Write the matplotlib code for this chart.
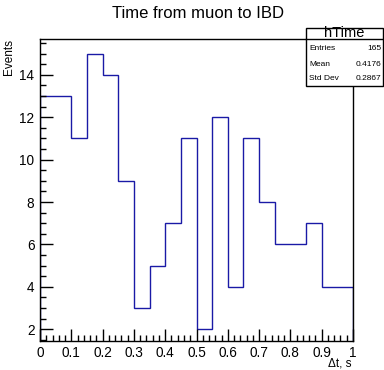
#!/usr/bin/env python3
import numpy as np
import matplotlib
matplotlib.use("Agg")
import matplotlib.pyplot as plt
from matplotlib.ticker import MultipleLocator

plt.rcParams['font.family'] = ['Liberation Sans', 'DejaVu Sans']

# histogram content, 20 bins of 0.05 s
bin_edges = [0.0, 0.05, 0.1, 0.15, 0.2, 0.25, 0.3, 0.35, 0.4, 0.45, 0.5,
             0.55, 0.6, 0.65, 0.7, 0.75, 0.8, 0.85, 0.9, 0.95, 1.0]
counts = [13, 13, 11, 15, 14, 9, 3, 5, 7, 11,
          2, 12, 4, 11, 8, 6, 6, 7, 4, 4]
stats_names = ["Entries", "Mean", "Std Dev"]
stats_values = ["165", "0.4176", "0.2867"]

W, H = 384, 370
fig = plt.figure(figsize=(W / 100, H / 100), dpi=100)
ax_l, ax_r, ax_t, ax_b = 40, 353, 38.7, 340.7
ax = fig.add_axes([ax_l / W, 1 - ax_b / H, (ax_r - ax_l) / W, (ax_b - ax_t) / H])

ax.stairs(counts, bin_edges, color="#1a1aa6", linewidth=1.0)
ax.set_xlim(0, 1)
ax.set_ylim(1.46, 15.7)

ax.xaxis.set_major_locator(MultipleLocator(0.1))
ax.xaxis.set_minor_locator(MultipleLocator(0.02))
ax.yaxis.set_major_locator(MultipleLocator(2))
ax.yaxis.set_minor_locator(MultipleLocator(0.5))
ax.set_xticks(np.arange(0, 1.01, 0.1))
ax.set_xticklabels(["0", "0.1", "0.2", "0.3", "0.4", "0.5", "0.6", "0.7",
                    "0.8", "0.9", "1"])
ax.tick_params(which="both", direction="in", top=False, right=False,
               labelsize=9.8, width=1.0)
ax.tick_params(which="major", length=9, pad=4)
ax.tick_params(which="minor", length=4.5)
for s in ax.spines.values():
    s.set_linewidth(1.0)

fig.text(198 / W, 1 - 13 / H, "Time from muon to IBD", ha="center", va="center",
         fontsize=12)
fig.text(352 / W, 1 - 364 / H, "\u0394t, s", ha="right", va="center", fontsize=8.5)
fig.text(9 / W, 1 - 39 / H, "Events", ha="center", va="top", rotation=90,
         fontsize=8.5)

# stats box
bx_l, bx_r, bx_t, bx_b, bx_h = 306, 383, 28, 86, 39
fig.patches.append(plt.Rectangle((bx_l / W, 1 - bx_b / H), (bx_r - bx_l) / W,
                                 (bx_b - bx_t) / H, transform=fig.transFigure,
                                 facecolor="white", edgecolor="black",
                                 linewidth=1.0, zorder=5))
fig.add_artist(plt.Line2D([bx_l / W, bx_r / W], [1 - bx_h / H, 1 - bx_h / H],
                          transform=fig.transFigure, color="black",
                          linewidth=1.0, zorder=6))
fig.text((bx_l + bx_r) / 2 / W, 1 - 37.3 / H, "hTime", ha="center",
         va="baseline", fontsize=10.5, zorder=7)
row_y = [49, 64, 79]
for name, val, y in zip(stats_names, stats_values, row_y):
    fig.text(309 / W, 1 - y / H, name, ha="left", va="center", fontsize=6,
             zorder=7)
    fig.text(381 / W, 1 - y / H, val, ha="right", va="center", fontsize=6,
             zorder=7)

fig.savefig("out.png", dpi=100)
